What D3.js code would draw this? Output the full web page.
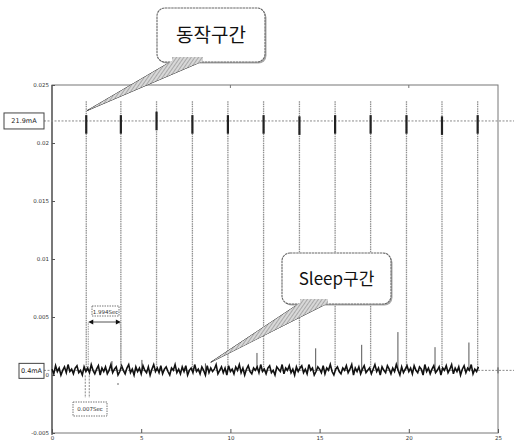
<!DOCTYPE html>
<html><head><meta charset="utf-8">
<script src="https://cdn.jsdelivr.net/npm/d3@7"></script>
<style>
html,body{margin:0;padding:0;background:#fff;}
svg{display:block;}
</style></head>
<body>
<svg id="chart" width="514" height="444"></svg>
<script>
// ---------------- data ----------------
const xTicks = [0, 5, 10, 15, 20, 25];
const xTickLabels = ["0", "5", "10", "15", "20", "25"];
const yTicks = [-0.005, 0, 0.005, 0.01, 0.015, 0.02, 0.025];
const yTickLabels = ["-0.005", "0", "0.005", "0.01", "0.015", "0.02", "0.025"];

// active (동작) pulses: time [s], pulse level [A], cursor top [A]
const pulseTimes = [1.92, 3.86, 5.86, 7.87, 9.86, 11.86, 13.87, 15.87, 17.86, 19.87, 21.86, 23.86];
const pulseLevel = [0.0219, 0.0219, 0.0222, 0.0219, 0.0219, 0.0219, 0.0218, 0.0219, 0.0219, 0.0219, 0.0218, 0.0219];
const pulseTop = [0.0236, 0.0236, 0.0236, 0.0236, 0.0236, 0.0236, 0.0236, 0.0236, 0.0236, 0.0236, 0.0236, 0.0236];

// small spikes inside the sleep interval
const sleepSpikeTimes = [3.36, 5.04, 8.6, 11.49, 14.78, 17.36, 19.39, 21.47, 23.37];
const sleepSpikeValues = [0.0012, 0.0013, 0.0010, 0.0019, 0.0023, 0.0026, 0.0037, 0.0024, 0.0028];

// sleep current trace, one sample every 0.1 s, in mA
const sampleStep = 0.1;
const sleepCurrent_mA = [
 0.5,0.1,0.8,0.3,0.6,0.0,0.4,0.7,0.2,0.9,0.3,0.5,0.1,0.6,0.8,0.2,0.4,0.0,0.7,0.3,
 0.6,0.2,0.9,0.4,0.1,0.5,0.8,0.0,0.6,0.3,0.7,0.1,0.4,0.9,0.2,0.5,0.7,0.0,0.3,0.8,
 0.4,0.1,0.6,0.9,0.2,0.5,0.0,0.7,0.3,0.6,0.1,0.8,0.4,0.2,0.7,0.0,0.5,0.9,0.3,0.6,
 0.2,0.8,0.1,0.5,0.7,0.3,0.0,0.6,0.4,0.9,0.2,0.5,0.1,0.7,0.3,0.8,0.0,0.4,0.6,0.2,
 0.9,0.3,0.5,0.1,0.7,0.4,0.0,0.8,0.2,0.6,0.3,0.5,0.9,0.1,0.4,0.7,0.2,0.6,0.0,0.8,
 0.3,0.5,0.1,0.7,0.4,0.9,0.2,0.6,0.0,0.5,0.8,0.3,0.1,0.6,0.4,0.7,0.2,0.9,0.3,0.5,
 0.1,0.6,0.8,0.2,0.4,0.0,0.7,0.5,0.3,0.9,0.1,0.6,0.4,0.8,0.2,0.5,0.0,0.7,0.3,0.6,
 0.8,0.2,0.5,0.1,0.9,0.4,0.6,0.0,0.3,0.7,0.5,0.2,0.8,0.1,0.6,0.4,0.9,0.3,0.0,0.5,
 0.7,0.3,0.1,0.6,0.4,0.8,0.2,0.5,0.9,0.0,0.6,0.3,0.7,0.1,0.5,0.8,0.2,0.4,0.6,0.1,
 0.5,0.9,0.3,0.6,0.0,0.7,0.4,0.2,0.8,0.5,0.1,0.6,0.3,0.9,0.4,0.0,0.7,0.2,0.5,0.8,
 0.3,0.6,0.1,0.8,0.4,0.2,0.7,0.5,0.0,0.9,0.3,0.6,0.1,0.5,0.8,0.2,0.4,0.7,0.0,0.6,
 0.4,0.8,0.2,0.5,0.9,0.1,0.6,0.3,0.7,0.0,0.5,0.8,0.2,0.6,0.4,0.9,0.1,0.5,0.3,0.7
];

const activeLevel = 0.0219;
const baseLevel = 0.0004;
const activeLabel = "21.9mA";
const baseLabel = "0.4mA";
const periodLabel = "1.994Sec";
const widthLabel = "0.007Sec";
const activeCallout = "동작구간";
const sleepCallout = "Sleep구간";

// ---------------- drawing ----------------
const svg = d3.select("#chart");
const x = d3.scaleLinear().domain([0, 25]).range([52, 498]);
const y = d3.scaleLinear().domain([-0.005, 0.025]).range([433, 85]);

const ink = "#222", grey = "#8a8a8a";

// frame
svg.append("rect").attr("x", x(0)).attr("y", y(0.025))
  .attr("width", x(25) - x(0)).attr("height", y(-0.005) - y(0.025))
  .attr("fill", "none").attr("stroke", "#777").attr("stroke-width", 1);
svg.append("line").attr("x1", x(0)).attr("x2", x(0)).attr("y1", y(0.025)).attr("y2", y(-0.005) + 2)
  .attr("stroke", "#555").attr("stroke-width", 1.3);

// axes
const yAxis = d3.axisLeft(y).tickValues(yTicks).tickSize(-3).tickPadding(3)
  .tickFormat((d, i) => yTickLabels[i]);
const gy = svg.append("g").attr("transform", `translate(${x(0)},0)`).call(yAxis);
gy.select(".domain").remove();
gy.selectAll("line").attr("stroke", "#555");
gy.selectAll("text").attr("font-family", "DejaVu Sans").attr("font-size", 5.5).attr("fill", "#333");

const xAxis = d3.axisBottom(x).tickValues(xTicks).tickSize(-4).tickPadding(3)
  .tickFormat((d, i) => xTickLabels[i]);
const gx = svg.append("g").attr("transform", `translate(0,${y(-0.005)})`).call(xAxis);
gx.select(".domain").remove();
gx.selectAll("line").attr("stroke", "#555");
gx.selectAll("text").attr("font-family", "DejaVu Sans").attr("font-size", 5.5).attr("fill", "#333");

// top border small ticks
svg.selectAll(".ttick").data([10, 20]).enter().append("line")
  .attr("x1", d => x(d)).attr("x2", d => x(d)).attr("y1", y(0.025)).attr("y2", y(0.025) + 3)
  .attr("stroke", "#777");

// reference lines
svg.append("line").attr("x1", 44).attr("x2", 514).attr("y1", y(activeLevel)).attr("y2", y(activeLevel))
  .attr("stroke", grey).attr("stroke-dasharray", "2,1.5").attr("stroke-width", 1);
svg.append("line").attr("x1", 44).attr("x2", 514).attr("y1", y(baseLevel)).attr("y2", y(baseLevel))
  .attr("stroke", grey).attr("stroke-dasharray", "2,1.5").attr("stroke-width", 1);
svg.append("line").attr("x1", x(25)).attr("x2", x(25)).attr("y1", y(baseLevel) - 3).attr("y2", y(baseLevel) + 3)
  .attr("stroke", "#555");

// pulse cursors (light vertical lines)
svg.selectAll(".pulse").data(pulseTimes).enter().append("line")
  .attr("x1", d => x(d)).attr("x2", d => x(d))
  .attr("y1", (d, i) => y(pulseTop[i])).attr("y2", y(baseLevel))
  .attr("stroke", "#8f8f8f").attr("stroke-width", 1.3).attr("stroke-dasharray", "1.5,0.8");
// pulse tops
svg.selectAll(".pulseTop").data(pulseTimes).enter().append("line")
  .attr("x1", d => x(d)).attr("x2", d => x(d))
  .attr("y1", (d, i) => y(pulseLevel[i] + 0.0005)).attr("y2", (d, i) => y(pulseLevel[i] - 0.0011))
  .attr("stroke", ink).attr("stroke-width", 2.2);

// sleep spikes
svg.selectAll(".sspike").data(sleepSpikeTimes).enter().append("line")
  .attr("x1", d => x(d)).attr("x2", d => x(d))
  .attr("y1", (d, i) => y(sleepSpikeValues[i])).attr("y2", y(baseLevel))
  .attr("stroke", "#555").attr("stroke-width", 1);

// sleep current trace
const trace = sleepCurrent_mA.map((v, i) => [i * sampleStep, v / 1000]);
svg.append("path").datum(trace)
  .attr("d", d3.line().x(d => x(d[0])).y(d => y(d[1])))
  .attr("fill", "none").attr("stroke", "#111").attr("stroke-width", 1.6);

// value label boxes
function labelBox(x0, y0, w, h, txt, size) {
  svg.append("rect").attr("x", x0).attr("y", y0).attr("width", w).attr("height", h)
    .attr("fill", "#fff").attr("stroke", "#444").attr("stroke-width", 1);
  svg.append("text").attr("x", x0 + w / 2).attr("y", y0 + h / 2 + size * 0.35)
    .attr("text-anchor", "middle").attr("font-family", "DejaVu Sans").attr("font-size", size)
    .attr("fill", "#222").text(txt);
}
labelBox(4, y(activeLevel) - 8, 40, 16, activeLabel, 6.5);
labelBox(19, y(baseLevel) - 7, 25, 15, baseLabel, 6.5);

// period annotation
const p0 = x(pulseTimes[0]) + 2, p1 = x(pulseTimes[1]);
const ay = 322;
svg.append("path").attr("d", `M${p0},${y(baseLevel) - 3}V${ay}M${p1},${y(baseLevel) - 3}V${ay + 6}Q${p1},${ay} ${p1 - 5},${ay}`)
  .attr("fill", "none").attr("stroke", "#999").attr("stroke-dasharray", "1.5,1");
svg.append("line").attr("x1", p0 + 4).attr("x2", p1 - 4).attr("y1", ay).attr("y2", ay)
  .attr("stroke", "#555").attr("stroke-width", 1);
svg.append("path").attr("d", `M${p0},${ay}l5,-2.5v5z M${p1},${ay}l-5,-2.5v5z`).attr("fill", "#111");
svg.append("rect").attr("x", 92).attr("y", 306).attr("width", 27).attr("height", 10)
  .attr("fill", "#fff").attr("stroke", "#777").attr("stroke-dasharray", "1.5,1");
svg.append("text").attr("x", 105.5).attr("y", 313.5).attr("text-anchor", "middle")
  .attr("font-family", "DejaVu Sans").attr("font-size", 5.5).attr("fill", "#333").text(periodLabel);

// pulse width annotation
[x(pulseTimes[0]) - 1, x(pulseTimes[0]) + 3].forEach(px => {
  svg.append("line").attr("x1", px).attr("x2", px).attr("y1", y(baseLevel) + 5).attr("y2", 398)
    .attr("stroke", "#888").attr("stroke-dasharray", "2,1.2");
});
svg.append("rect").attr("x", 73).attr("y", 402).attr("width", 34).attr("height", 14)
  .attr("fill", "#fff").attr("stroke", "#777").attr("stroke-dasharray", "1.5,1");
svg.append("text").attr("x", 90).attr("y", 411).attr("text-anchor", "middle")
  .attr("font-family", "DejaVu Sans").attr("font-size", 5.5).attr("fill", "#333").text(widthLabel);
svg.append("circle").attr("cx", 118).attr("cy", 384).attr("r", 0.8).attr("fill", "#555");

// callouts
const defs = svg.append("defs");
const pat = defs.append("pattern").attr("id", "hatch").attr("width", 3).attr("height", 3)
  .attr("patternUnits", "userSpaceOnUse").attr("patternTransform", "rotate(35)");
pat.append("rect").attr("width", 3).attr("height", 3).attr("fill", "#d8d8d8");
pat.append("line").attr("x1", 0).attr("y1", 0).attr("x2", 0).attr("y2", 3).attr("stroke", "#888").attr("stroke-width", 1.2);

function callout(bx, by, bw, bh, wa, wb, tip, txt, size) {
  svg.append("path").attr("d", `M${wa[0]},${wa[1]}L${tip[0]},${tip[1]}L${wb[0]},${wb[1]}Z`)
    .attr("fill", "url(#hatch)").attr("stroke", "#333").attr("stroke-width", 1);
  svg.append("rect").attr("x", bx + 1.5).attr("y", by + 1.5).attr("width", bw).attr("height", bh)
    .attr("rx", 8).attr("fill", "#aaa");
  svg.append("rect").attr("x", bx).attr("y", by).attr("width", bw).attr("height", bh)
    .attr("rx", 8).attr("fill", "#fff").attr("stroke", "#666").attr("stroke-width", 1.1)
    .attr("stroke-dasharray", "2.5,0.6");
  svg.append("path").attr("d", `M${wa[0]},${wa[1] - 4}L${wa[0]},${wa[1]}L${tip[0]},${tip[1]}L${wb[0]},${wb[1]}L${wb[0]},${wb[1] - 4}`)
    .attr("fill", "url(#hatch)").attr("stroke", "none");
  svg.append("text").attr("x", bx + bw / 2).attr("y", by + bh / 2 + size * 0.36)
    .attr("text-anchor", "middle").attr("font-family", "'Noto Sans CJK KR', 'Noto Sans', sans-serif")
    .attr("font-size", size).attr("fill", "#111").text(txt);
}
callout(157, 8, 108, 54, [172, 61], [203, 61], [x(pulseTimes[0]) + 1, y(0.0228)], activeCallout, 19);
callout(282, 253, 109, 51, [300, 303], [328, 303], [x(8.9), y(0.0011)], sleepCallout, 17);
</script>
</body></html>
